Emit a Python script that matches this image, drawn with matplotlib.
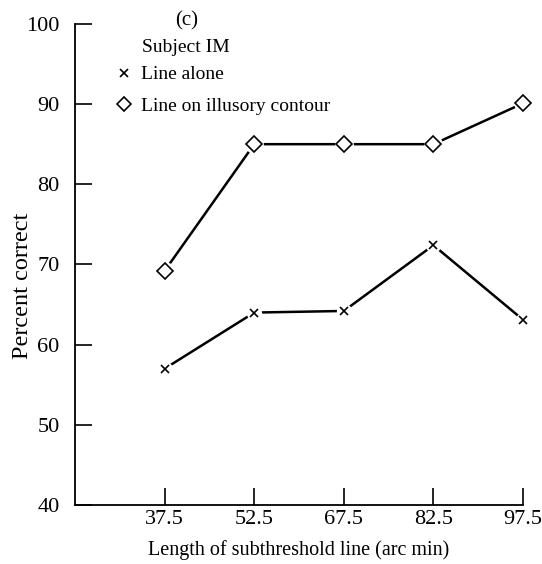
import matplotlib.pyplot as plt
from matplotlib.lines import Line2D

plt.rcParams['font.family'] = ['Liberation Serif', 'DejaVu Serif']

# Data
lengths = [37.5, 52.5, 67.5, 82.5, 97.5]
line_alone = [57.0, 64.0, 64.2, 72.4, 63.1]
line_on_contour = [69.2, 85.0, 85.0, 85.0, 90.1]
yticks = [40, 50, 60, 70, 80, 90, 100]

fig = plt.figure(figsize=(5.42, 5.64), dpi=100)
ax = fig.add_axes([0.1384, 0.1046, 0.8266, 0.853])

for vals, marker, ms in [(line_alone, 'x', 6), (line_on_contour, 'D', 8.5)]:
    ax.plot(lengths, vals, color='black', lw=1.8, zorder=2)
    # white blobs to leave small gaps where the line meets a marker
    ax.plot(lengths, vals, ls='none', marker='o', ms=ms + 5, mfc='white',
            mec='none', zorder=3, clip_on=False)
    ax.plot(lengths, vals, ls='none', marker=marker, ms=ms, mfc='white',
            mec='black', mew=1.2, color='black', zorder=4, clip_on=False)

ax.set_xlim(22.5, 97.5)
ax.set_ylim(40, 100)
ax.set_xticks(lengths)
ax.set_xticklabels([str(v) for v in lengths])
ax.set_yticks(yticks)

for side in ['top', 'right']:
    ax.spines[side].set_visible(False)
for side in ['left', 'bottom']:
    ax.spines[side].set_linewidth(1.3)
ax.tick_params(direction='in', length=12, width=1.2, labelsize=16)
ax.tick_params(axis='x', pad=3.5)
ax.tick_params(axis='y', pad=11)

ax.set_xlabel('Length of subthreshold line (arc min)', fontsize=14.5)
ax.xaxis.set_label_coords(0.5, -0.072)
ax.set_ylabel('Percent correct', fontsize=17.5)
ax.yaxis.set_label_coords(-0.094, 0.455)

ax.text(0.25, 1.006, '(c)', transform=ax.transAxes, fontsize=15,
        ha='center', va='center')
ax.text(0.1496, 0.951, 'Subject IM', transform=ax.transAxes, fontsize=14,
        ha='left', va='center')

handles = [
    Line2D([], [], ls='none', marker='x', ms=6, mew=1.2, color='black'),
    Line2D([], [], ls='none', marker='D', ms=7.5, mew=1.2, mfc='white', mec='black'),
]
ax.legend(handles, ['Line alone', 'Line on illusory contour'],
          loc='upper left', bbox_to_anchor=(0.087, 0.913), frameon=False,
          fontsize=14, handlelength=1.0, handletextpad=0.4, labelspacing=0.7,
          borderaxespad=0, borderpad=0)

fig.savefig('out.png', dpi=100)
